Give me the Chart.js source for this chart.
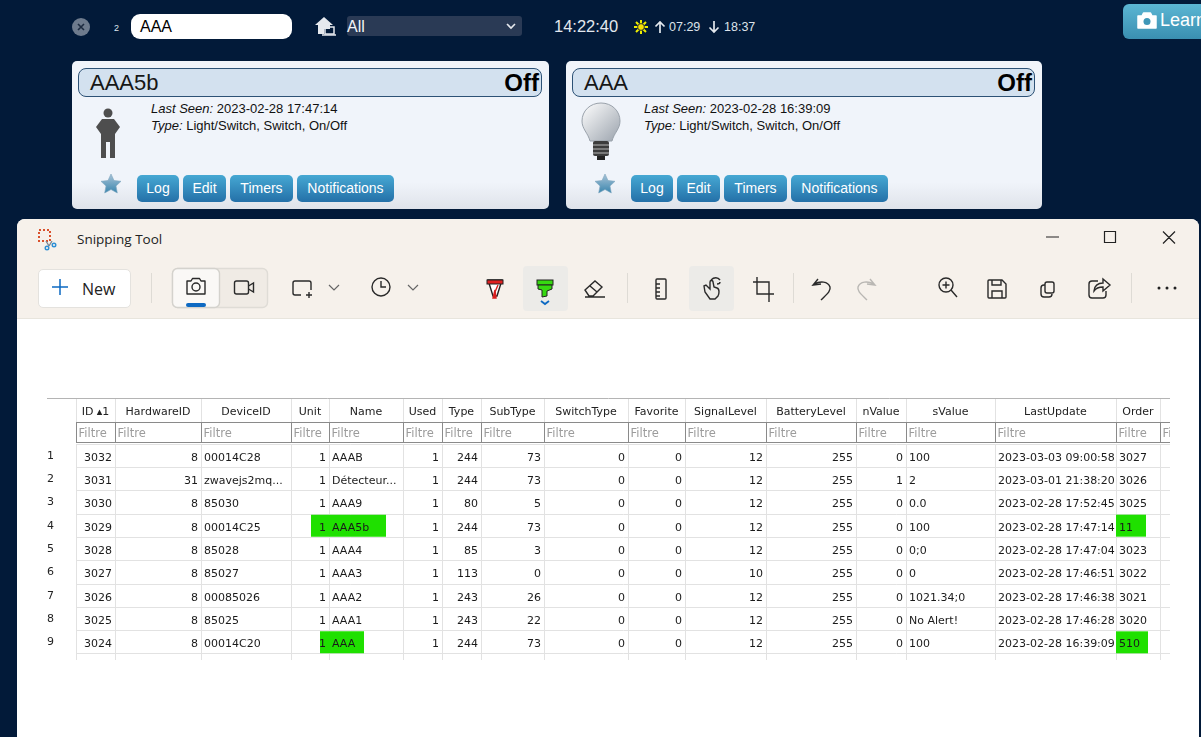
<!DOCTYPE html>
<html>
<head>
<meta charset="utf-8">
<title>Snipping Tool</title>
<script src="https://cdn.jsdelivr.net/npm/chart.js@4"></script>
<style>
html, body { margin: 0; width: 1201px; height: 737px; overflow: hidden; background: #021a39; font-family: "Liberation Sans", sans-serif; }
.abs { position: absolute; white-space: nowrap; }
.card { position: absolute; top: 61px; width: 477px; height: 148px; border-radius: 5px; background: linear-gradient(#f0f4fa 0, #f0f4fa 82%, #dfe3ea 100%); color: #111; }
.bar { position: absolute; left: 6px; top: 7px; width: 462px; height: 27px; background: #d3e1ef; border: 1px solid #2d5276; border-radius: 8px; }
.title { position: absolute; left: 11px; top: 0; font-size: 22px; line-height: 27px; color: #161616; }
.state { position: absolute; right: 2px; top: 0; font-size: 24px; line-height: 28px; font-weight: bold; color: #000; }
.info { position: absolute; left: 79px; top: 40px; font-size: 13px; line-height: 16.5px; white-space: nowrap; }
.btn { position: absolute; top: 114px; height: 27px; line-height: 27px; border-radius: 5px; text-align: center; color: #fff; font-size: 14px; background: linear-gradient(#46a8d3, #2470a8); }
#win { position: absolute; left: 17px; top: 219px; width: 1182px; height: 530px; background: #fff; border-radius: 8px; overflow: hidden; }
#winTop { position: absolute; left: 0; top: 0; width: 100%; height: 99px; background: #f6f1eb; border-bottom: 1px solid #e8e5dd; }
#icons { position: absolute; left: 0; top: 0; }
#tableChart { position: absolute; left: 47px; top: 398px; }
</style>
</head>
<body>

<div class="abs" style="left:114px;top:23px;font-size:9px;color:#dfe6ee">2</div>
<div class="abs" style="left:131px;top:14px;width:152px;height:25px;padding-left:9px;line-height:26px;background:#fff;border-radius:9px;font-size:16px;color:#000">AAA</div>
<div class="abs" style="left:347px;top:16px;width:175px;height:20px;line-height:21px;background:#2a3a55;border-radius:3px;font-size:16px;color:#f2f4f7">All</div>
<div class="abs" style="left:554px;top:17px;font-size:16.5px;color:#e3e8ee">14:22:40</div>
<div class="abs" style="left:669px;top:20px;font-size:12.5px;color:#dde3ea">07:29</div>
<div class="abs" style="left:724px;top:20px;font-size:12.5px;color:#dde3ea">18:37</div>
<div class="abs" style="left:1123px;top:4px;width:90px;height:35px;border-radius:6px;background:linear-gradient(#5bb6d3,#3a8fb1)"></div>
<div class="abs" style="left:1160px;top:10px;font-size:18px;color:#fff">Learn</div>

<div class="card" style="left:72px">
  <div class="bar"><span class="title">AAA5b</span><span class="state">Off</span></div>
  <div class="info"><i>Last Seen:</i> 2023-02-28 17:47:14<br><i>Type:</i> Light/Switch, Switch, On/Off</div>
  <div class="btn" style="left:65px;width:42px">Log</div>
  <div class="btn" style="left:111px;width:43px">Edit</div>
  <div class="btn" style="left:158px;width:63px">Timers</div>
  <div class="btn" style="left:225px;width:97px">Notifications</div>
</div>
<div class="card" style="left:566px;width:476px">
  <div class="bar" style="width:461px"><span class="title">AAA</span><span class="state">Off</span></div>
  <div class="info" style="left:78px"><i>Last Seen:</i> 2023-02-28 16:39:09<br><i>Type:</i> Light/Switch, Switch, On/Off</div>
  <div class="btn" style="left:65px;width:42px">Log</div>
  <div class="btn" style="left:111px;width:43px">Edit</div>
  <div class="btn" style="left:158px;width:63px">Timers</div>
  <div class="btn" style="left:225px;width:97px">Notifications</div>
</div>

<div id="win"><div id="winTop"></div></div>
<div class="abs" style="left:77px;top:230px;font-family:'Open Sans';font-size:13.5px;color:#222">Snipping Tool</div>
<div class="abs" style="left:38px;top:269px;width:91px;height:37px;background:#fff;border:1px solid #e4e2de;border-radius:5px"></div>
<div class="abs" style="left:82px;top:278px;font-family:'Open Sans';font-size:16px;color:#222">New</div>

<svg id="icons" width="1201" height="737" fill="none" stroke="#2a2a2a" stroke-width="1.4">
  <!-- top bar -->
  <circle cx="81" cy="27" r="9" fill="#6e7b8d" stroke="none"/>
  <path d="M78 24l6 6M84 24l-6 6" stroke="#1d2b40" stroke-width="1.6"/>
  <path d="M315 25l9-8 9 8h-3v4h-6v5h-6v-9z" fill="#e6e9ee" stroke="none"/>
  <rect x="325" y="27" width="9" height="7" stroke="#e6e9ee" stroke-width="1.5"/>
  <path d="M322 35h14" stroke="#e6e9ee" stroke-width="1.5"/>
  <path d="M507 24l4 4 4-4" stroke="#e6e9ee" stroke-width="1.6"/>
  <path d="M641 20v14M634 27h14M636 22l10 10M646 22l-10 10" stroke="#eded00" stroke-width="2"/>
  <circle cx="641" cy="27" r="3.4" fill="#f4e000" stroke="#333" stroke-width="1"/>
  <path d="M660 33V22M655.5 26.5l4.5-4.5 4.5 4.5M714 21v11M709.5 27.5l4.5 4.500 4.5-4.500" stroke="#e3e8ee" stroke-width="1.7"/>
  <path d="M1138 16h4l1.500-3h7l1.500 3h4v12h-18z" fill="#fff" stroke="#fff" stroke-width="1.500" stroke-linejoin="round"/>
  <circle cx="1147" cy="21.500" r="3.500" fill="#3f97b8" stroke="none"/>

  <!-- card icons -->
  <g id="person" fill="#4e4e4e" stroke="none">
    <circle cx="108" cy="113" r="4.500"/>
    <path d="M102 119h12l6 8-5 7v24h-5v-16h-4v16h-5v-24l-5-7z"/>
  </g>
  <defs>
    <linearGradient id="bulb" x1="0" y1="0" x2="1" y2="1"><stop offset="0" stop-color="#fff"/><stop offset="1" stop-color="#9ba3ad"/></linearGradient>
    <linearGradient id="star" x1="0" y1="0" x2="0" y2="1"><stop offset="0" stop-color="#a9c4d8"/><stop offset="1" stop-color="#3a85ad"/></linearGradient>
  </defs>
  <path d="M601 103c-11 0-19 8-19 18 0 8 6 12 8 20h22c2-8 8-12 8-20 0-10-8-18-19-18z" fill="url(#bulb)" stroke="#9aa2ab" stroke-width="1"/>
  <rect x="593" y="141" width="16" height="15" rx="2" fill="#3c3c3c" stroke="none"/>
  <path d="M593 145h16M593 149h16M593 153h16" stroke="#b8b8b8" stroke-width="1"/>
  <rect x="597" y="156" width="8" height="4" fill="#222" stroke="none"/>
  <path id="s1" d="M111 174l3 6.500 7 .8-5 4.700 1.300 7-6.300-3.500-6.300 3.500 1.300-7-5-4.700 7-.8z" fill="url(#star)" stroke="#7fa6c0" stroke-width=".6"/>
  <path d="M605 174l3 6.500 7 .8-5 4.700 1.300 7-6.300-3.500-6.300 3.500 1.300-7-5-4.700 7-.8z" fill="url(#star)" stroke="#7fa6c0" stroke-width=".6"/>

  <!-- snipping tool title bar -->
  <rect x="39" y="230" width="11" height="11" stroke="#d9512c" stroke-dasharray="2 2" stroke-width="2"/>
  <path d="M46 241l3 5M52 241l-3 5" stroke="#7a8794"/>
  <circle cx="47" cy="248" r="1.800" stroke="#2d8fd5"/><circle cx="54" cy="245" r="1.800" stroke="#2d8fd5"/>
  <path d="M1046 237h13M1104.500 231.500h11v11h-11zM1163 231.500l12 12M1175 231.500l-12 12" stroke="#222" stroke-width="1.2"/>

  <!-- snipping tool toolbar -->
  <path d="M52 287h16M60 279v16" stroke="#0d69c2" stroke-width="1.5"/>
  <path d="M151.500 273v30M627.500 273v30M793.500 273v30M1131.500 273v30" stroke="#dedbd5" stroke-width="1"/>
  <rect x="172.500" y="268.500" width="95" height="39" rx="5" fill="#f0ebe5" stroke="#dfdcd6"/>
  <rect x="172.500" y="268.500" width="47" height="39" rx="5" fill="#faf8f6" stroke="#d4d2cd"/>
  <rect x="186" y="303" width="20" height="4" rx="2" fill="#0d69c2" stroke="none"/>
  <path d="M187 281h4l1.500-2.500h7l1.500 2.500h4v13h-18z" stroke-linejoin="round"/><circle cx="196" cy="287" r="4"/>
  <rect x="234.500" y="281" width="14" height="13" rx="2"/><path d="M248.500 286l5-3v9l-5-3"/>
  <path d="M301 295h-6a2 2 0 0 1-2-2v-10a2 2 0 0 1 2-2h14a2 2 0 0 1 2 2v7M306 295h6M309 292v6"/>
  <path d="M329 285l5 5 5-5M408 285l5 5 5-5" stroke="#666" stroke-width="1.200"/>
  <circle cx="381" cy="287" r="9"/><path d="M381 281v6h5"/>
  <rect x="523" y="266" width="45" height="45" rx="4" fill="#ecebe8" stroke="none"/>
  <rect x="689" y="266" width="45" height="45" rx="4" fill="#ecebe8" stroke="none"/>
  <path d="M488 280h14l-5 16h-4z" fill="#fff" stroke="#222"/>
  <rect x="487" y="280" width="16" height="4" fill="#e02020" stroke="#222" stroke-width="1"/>
  <path d="M495 290l-2 8h3z M498 285l-3 7" fill="#d82020" stroke="#d82020"/>
  <rect x="537" y="280" width="16" height="5" fill="#36d810" stroke="#222" stroke-width="1"/>
  <path d="M538 285h14v4l-5 2v5l-5 1v-7l-4-1z" fill="#36d810" stroke="#222" stroke-width="1"/>
  <path d="M541 301l4 3 4-3" stroke="#0d69c2" stroke-width="1.800"/>
  <path d="M585 290l10-9 7 6-9 9h-4zM590 286l7 6M585 297h20"/>
  <rect x="656" y="279" width="10" height="20" rx="1"/><path d="M656 284h4M656 288h4M656 292h4M656 296h4"/>
  <path d="M704 286l2-1 4 4v-7c0-2 3-2 3 0l1 5 3 1c3 1 2 6 1 8l-3 3h-5l-5-7zM711 280c3-3 7-3 9 0M717 284c2 0 3-1 3-2"/>
  <path d="M753 282h16v16M757 277v17h17M769 298v4M753 281v0"/>
  <path d="M818 279l-5 6 8-1M814 284c6-3 14-3 16 3 1 4-3 7-9 13"/>
  <path d="M870 279l5 6-8-1M874 284c-6-3-14-3-16 3-1 4 3 7 9 13" stroke="#b9b7b3"/>
  <circle cx="946" cy="285" r="7"/><path d="M951 290l6 7M942.500 285h7M946 281.500v7"/>
  <path d="M989 280h13l4 4v13a1 1 0 0 1-1 1h-16a1 1 0 0 1-1-1v-16a1 1 0 0 1 1-1zM992 280v5h9v-5M992 298v-7h10v7"/>
  <rect x="1045" y="282" width="9" height="11" rx="2"/><path d="M1045 285h-1c-2 0-3 1-3 3v6c0 2 1 3 3 3h5c2 0 3-1 3-3"/>
  <path d="M1098 281h-6c-2 0-3 1-3 3v11c0 2 1 3 3 3h11c2 0 3-1 3-3v-4M1094 291c0-5 4-8 9-8v-4l7 6-7 6v-4c-4 0-7 1-9 4z"/>
  <circle cx="1159" cy="288" r="1.500" fill="#222" stroke="none"/><circle cx="1167" cy="288" r="1.500" fill="#222" stroke="none"/><circle cx="1175" cy="288" r="1.500" fill="#222" stroke="none"/>
</svg>

<canvas id="tableChart" width="1123" height="262"></canvas>

<script>
const rowLabels = ["1", "2", "3", "4", "5", "6", "7", "8", "9"];
const columnNames = ["ID", "HardwareID", "DeviceID", "Unit", "Name", "Used", "Type", "SubType", "SwitchType", "Favorite", "SignalLevel", "BatteryLevel", "nValue", "sValue", "LastUpdate", "Order", ""];
const columnWidths = [39, 86, 90, 38, 74, 39, 39, 63, 84, 57, 81, 90, 50, 89, 121, 44, 10];
const leftAligned = ["DeviceID", "Name", "sValue", "LastUpdate", "Order"];

const ids = [3032, 3031, 3030, 3029, 3028, 3027, 3026, 3025, 3024];
const hardwareIds = [8, 31, 8, 8, 8, 8, 8, 8, 8];
const deviceIds = ["00014C28", "zwavejs2mq...", "85030", "00014C25", "85028", "85027", "00085026", "85025", "00014C20"];
const units = [1, 1, 1, 1, 1, 1, 1, 1, 1];
const names = ["AAAB", "Détecteur...", "AAA9", "AAA5b", "AAA4", "AAA3", "AAA2", "AAA1", "AAA"];
const used = [1, 1, 1, 1, 1, 1, 1, 1, 1];
const types = [244, 244, 80, 244, 85, 113, 243, 243, 244];
const subTypes = [73, 73, 5, 73, 3, 0, 26, 22, 73];
const switchTypes = [0, 0, 0, 0, 0, 0, 0, 0, 0];
const favorites = [0, 0, 0, 0, 0, 0, 0, 0, 0];
const signalLevels = [12, 12, 12, 12, 12, 10, 12, 12, 12];
const batteryLevels = [255, 255, 255, 255, 255, 255, 255, 255, 255];
const nValues = [0, 1, 0, 0, 0, 0, 0, 0, 0];
const sValues = ["100", "2", "0.0", "100", "0;0", "0", "1021.34;0", "No Alert!", "100"];
const lastUpdates = ["2023-03-03 09:00:58", "2023-03-01 21:38:20", "2023-02-28 17:52:45", "2023-02-28 17:47:14", "2023-02-28 17:47:04", "2023-02-28 17:46:51", "2023-02-28 17:46:38", "2023-02-28 17:46:28", "2023-02-28 16:39:09"];
const orders = ["3027", "3026", "3025", "11", "3023", "3022", "3021", "3020", "510"];
const tableColumns = [ids, hardwareIds, deviceIds, units, names, used, types, subTypes, switchTypes, favorites, signalLevels, batteryLevels, nValues, sValues, lastUpdates, orders];

// green marker strokes, on the x scale (one unit is one table pixel)
const markerRows = ["4", "9", "4", "9"];
const markerStart = [235, 244, 1040, 1040];
const markerEnd = [310, 288, 1070, 1072];

const cellFont = '11px "DejaVu Sans"';
const filterFont = '11.5px "DejaVu Sans"';
const tableWidth = columnWidths.reduce((a, b) => a + b, 0);

const columnEdges = [0];
columnWidths.forEach((w, i) => columnEdges.push(columnEdges[i] + w));
const columnCenters = columnWidths.map((w, i) => columnEdges[i] + w / 2);

const noPadding = scale => {
    scale.paddingLeft = 0;
    scale.paddingRight = 0;
    scale.paddingTop = 0;
    scale.paddingBottom = 0;
};

const markerSets = markerRows.map((row, i) => ({
    type: "line",
    data: [{ x: markerStart[i], y: row }, { x: markerEnd[i], y: row }],
    borderColor: "#1fe000",
    borderWidth: 22,
    pointRadius: 0,
    clip: false
}));

const cellSets = tableColumns.map((values, c) => ({
    type: "scatter",
    label: columnNames[c],
    data: values.map((v, r) => ({ x: columnCenters[c], y: rowLabels[r], text: String(v) })),
    pointRadius: 0
}));

// header frame, filter boxes and cell texts are not something a scale draws by itself
const tablePlugin = {
    id: "tablePlugin",
    beforeDatasetsDraw(chart) {
        const { ctx, scales, chartArea } = chart;
        ctx.save();
        ctx.strokeStyle = "#b4b4b4";
        ctx.beginPath();
        ctx.moveTo(0, 0.5);
        ctx.lineTo(chart.width, 0.5);
        ctx.stroke();
        ctx.strokeStyle = "#e2e2e2";
        ctx.beginPath();
        columnEdges.forEach(e => {
            const x = Math.round(scales.x.getPixelForValue(e)) + 0.5;
            ctx.moveTo(x, 1);
            ctx.lineTo(x, 24);
            ctx.moveTo(x, chartArea.bottom);
            ctx.lineTo(x, chart.height);
        });
        ctx.stroke();
        ctx.font = filterFont;
        ctx.textBaseline = "middle";
        ctx.textAlign = "left";
        columnWidths.forEach((w, i) => {
            const x = Math.round(scales.x.getPixelForValue(columnEdges[i])) + 0.5;
            ctx.strokeStyle = "#8a8a8a";
            ctx.strokeRect(x, 24.5, w, 20);
            ctx.fillStyle = "#9c9c9c";
            ctx.fillText("Filtre", x + 2, 36);
        });
        ctx.restore();
    },
    afterDatasetsDraw(chart) {
        const { ctx, scales } = chart;
        ctx.save();
        ctx.font = cellFont;
        ctx.fillStyle = "#1a1a1a";
        ctx.textBaseline = "middle";
        chart.data.datasets.forEach(set => {
            if (set.type !== "scatter") return;
            const c = columnNames.indexOf(set.label);
            const isLeft = leftAligned.includes(set.label);
            set.data.forEach((cell, r) => {
                const edge = isLeft ? columnEdges[c] : columnEdges[c + 1];
                const x = scales.x.getPixelForValue(edge) + (isLeft ? 3 : -3);
                ctx.textAlign = isLeft ? "left" : "right";
                ctx.fillText(cell.text, x, scales.y.getPixelForValue(r) + 2);
            });
        });
        ctx.restore();
    }
};

new Chart(document.getElementById("tableChart"), {
    data: { datasets: markerSets.concat(cellSets) },
    plugins: [tablePlugin],
    options: {
        responsive: false,
        animation: false,
        devicePixelRatio: 1,
        layout: { padding: { left: 0, right: 0, top: 0, bottom: 6 } },
        plugins: { legend: { display: false }, tooltip: { enabled: false } },
        scales: {
            x: {
                type: "linear",
                position: "top",
                min: 0,
                max: tableWidth,
                afterBuildTicks: scale => { scale.ticks = columnEdges.map(value => ({ value })); },
                afterFit: scale => { scale.height = 0; noPadding(scale); },
                ticks: { display: false },
                grid: { color: "#e2e2e2", drawTicks: false },
                border: { display: false }
            },
            xHead: {
                type: "linear",
                position: "top",
                min: 0,
                max: tableWidth,
                afterBuildTicks: scale => { scale.ticks = columnCenters.map(value => ({ value })); },
                afterFit: scale => { scale.height = 46; noPadding(scale); },
                ticks: {
                    autoSkip: false,
                    maxRotation: 0,
                    padding: 25,
                    color: "#222",
                    font: { family: "DejaVu Sans", size: 11 },
                    callback: (value, index) => columnNames[index] + (index === 0 ? " ▴1" : "")
                },
                grid: { display: false, drawTicks: false },
                border: { display: false }
            },
            y: {
                type: "category",
                labels: rowLabels,
                offset: true,
                afterFit: scale => { scale.width = 29; noPadding(scale); },
                ticks: {
                    crossAlign: "far",
                    padding: 3,
                    color: "#222",
                    font: { family: "DejaVu Sans", size: 11 }
                },
                grid: { color: "#e2e2e2", offset: true, drawTicks: false },
                border: { color: "#e2e2e2" }
            }
        }
    }
});
</script>
</body>
</html>
